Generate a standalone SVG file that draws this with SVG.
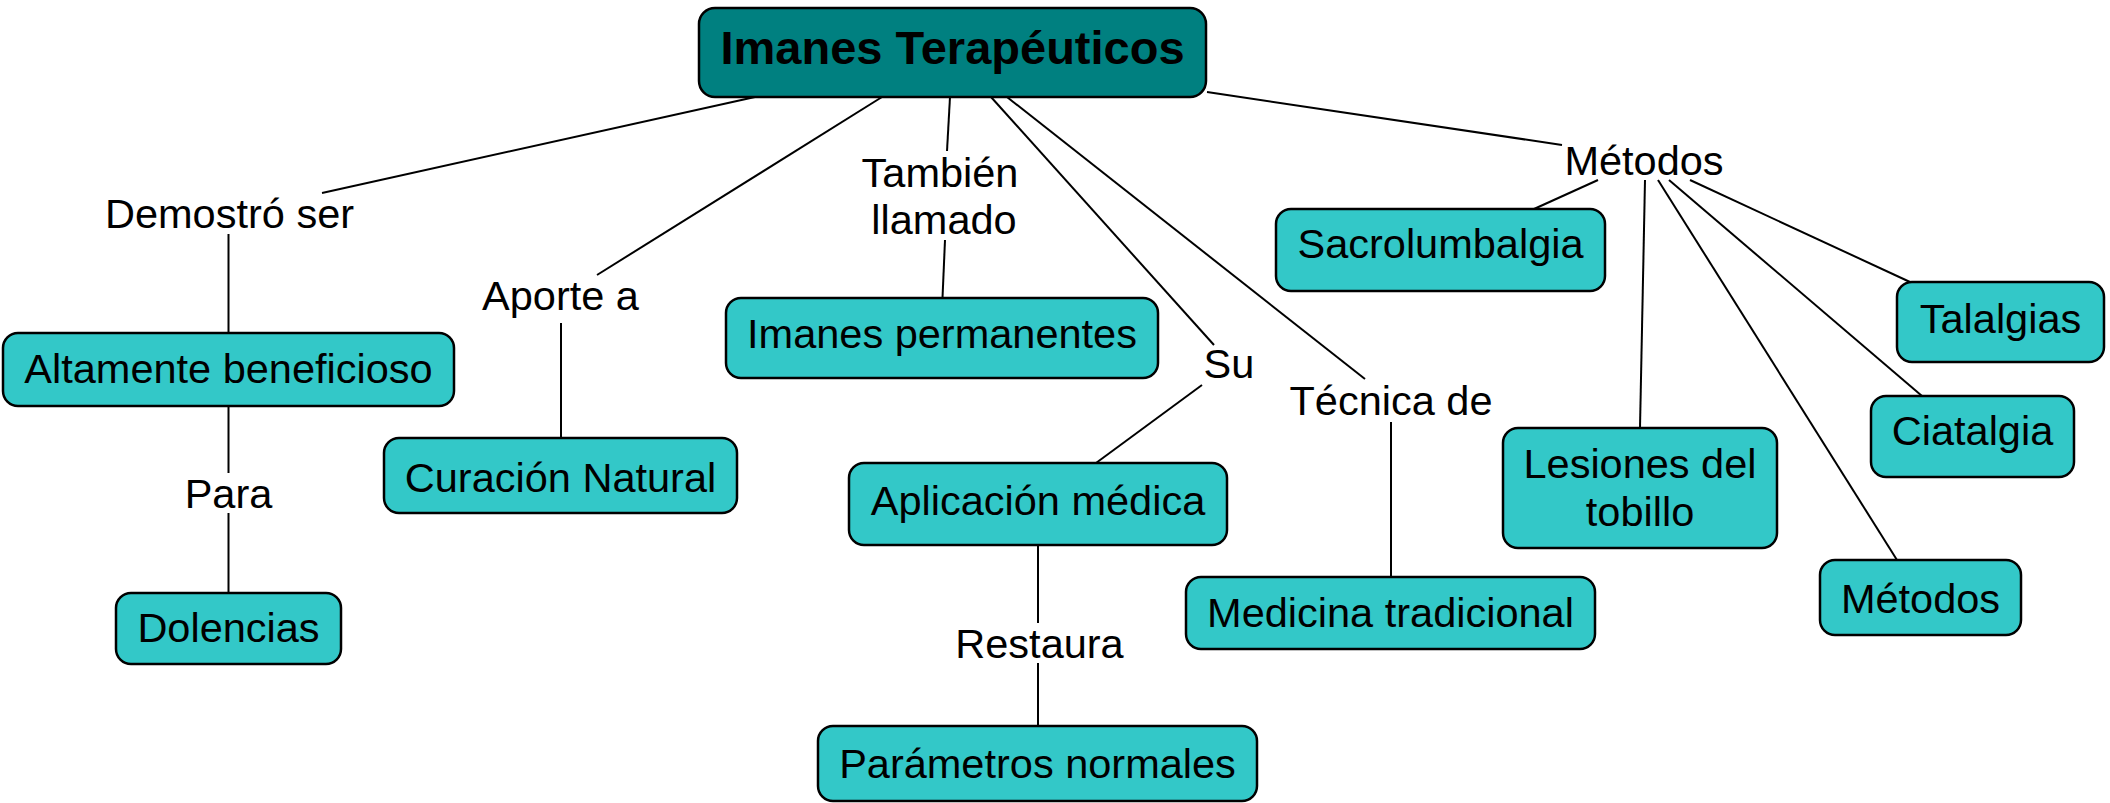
<svg xmlns="http://www.w3.org/2000/svg" width="2110" height="803" viewBox="0 0 2110 803">
<style>
.n{fill:#33C8C8;stroke:#000;stroke-width:2.5}
.m{fill:#008080;stroke:#000;stroke-width:2.5}
.t{font-family:"Liberation Sans",Arial,sans-serif;font-size:41.5px;fill:#000;text-anchor:middle}
.tb{font-family:"Liberation Sans",Arial,sans-serif;font-size:47px;font-weight:bold;fill:#000;text-anchor:middle}
.c line{stroke:#000;stroke-width:2}
</style>
<rect width="2110" height="803" fill="#fff"/>
<g class="c" id="connectors">
<line x1="755" y1="97" x2="322" y2="193"/>
<line x1="228.5" y1="234" x2="228.5" y2="333"/>
<line x1="228.5" y1="406" x2="228.5" y2="473"/>
<line x1="228.5" y1="513" x2="228.5" y2="593"/>
<line x1="882" y1="97" x2="597" y2="275"/>
<line x1="561" y1="323" x2="561" y2="438"/>
<line x1="950" y1="97" x2="947" y2="151"/>
<line x1="945" y1="240" x2="942.5" y2="298"/>
<line x1="991" y1="97" x2="1214" y2="345"/>
<line x1="1202" y1="385" x2="1096" y2="463"/>
<line x1="1038" y1="545" x2="1038" y2="623"/>
<line x1="1038" y1="663" x2="1038" y2="726"/>
<line x1="1007" y1="97" x2="1365" y2="379"/>
<line x1="1391" y1="422" x2="1391" y2="577"/>
<line x1="1207" y1="92" x2="1562" y2="145"/>
<line x1="1598" y1="180" x2="1534" y2="209"/>
<line x1="1645" y1="180" x2="1640" y2="428"/>
<line x1="1658" y1="180" x2="1897" y2="560"/>
<line x1="1669" y1="180" x2="1922" y2="396"/>
<line x1="1690" y1="180" x2="1910" y2="282"/>
</g>
<g id="labels">
<text class="t" x="229.5" y="228">Demostró ser</text>
<text class="t" x="228.5" y="508">Para</text>
<text class="t" x="560.5" y="310">Aporte a</text>
<text class="t" x="940" y="187">También</text>
<text class="t" x="944" y="234">llamado</text>
<text class="t" x="1229" y="378">Su</text>
<text class="t" x="1039.5" y="658">Restaura</text>
<text class="t" x="1391" y="415">Técnica de</text>
<text class="t" x="1644" y="175">Métodos</text>
</g>
<g id="main"><rect class="m" x="699" y="8" width="507" height="89" rx="16"/><text class="tb" x="952.5" y="64">Imanes Terapéuticos</text></g>
<g id="altamente"><rect class="n" x="3" y="333" width="451" height="73" rx="15"/><text class="t" x="228.5" y="383">Altamente beneficioso</text></g>
<g id="dolencias"><rect class="n" x="116" y="593" width="225" height="71" rx="15"/><text class="t" x="228.5" y="642">Dolencias</text></g>
<g id="curacion"><rect class="n" x="384" y="438" width="353" height="75" rx="15"/><text class="t" x="560.5" y="492">Curación Natural</text></g>
<g id="imanes-perm"><rect class="n" x="726" y="298" width="432" height="80" rx="15"/><text class="t" x="942" y="348">Imanes permanentes</text></g>
<g id="aplicacion"><rect class="n" x="849" y="463" width="378" height="82" rx="15"/><text class="t" x="1038" y="515">Aplicación médica</text></g>
<g id="parametros"><rect class="n" x="818" y="726" width="439" height="75" rx="15"/><text class="t" x="1037.5" y="778">Parámetros normales</text></g>
<g id="medicina"><rect class="n" x="1186" y="577" width="409" height="72" rx="15"/><text class="t" x="1390.5" y="627">Medicina tradicional</text></g>
<g id="sacro"><rect class="n" x="1276" y="209" width="329" height="82" rx="15"/><text class="t" x="1440.5" y="258">Sacrolumbalgia</text></g>
<g id="lesiones"><rect class="n" x="1503" y="428" width="274" height="120" rx="15"/><text class="t" x="1640" y="478">Lesiones del</text><text class="t" x="1640" y="526">tobillo</text></g>
<g id="talalgias"><rect class="n" x="1897" y="282" width="207" height="80" rx="15"/><text class="t" x="2000.5" y="333">Talalgias</text></g>
<g id="ciatalgia"><rect class="n" x="1871" y="396" width="203" height="81" rx="15"/><text class="t" x="1972.5" y="445">Ciatalgia</text></g>
<g id="metodos-box"><rect class="n" x="1820" y="560" width="201" height="75" rx="15"/><text class="t" x="1920.5" y="613">Métodos</text></g>
</svg>
